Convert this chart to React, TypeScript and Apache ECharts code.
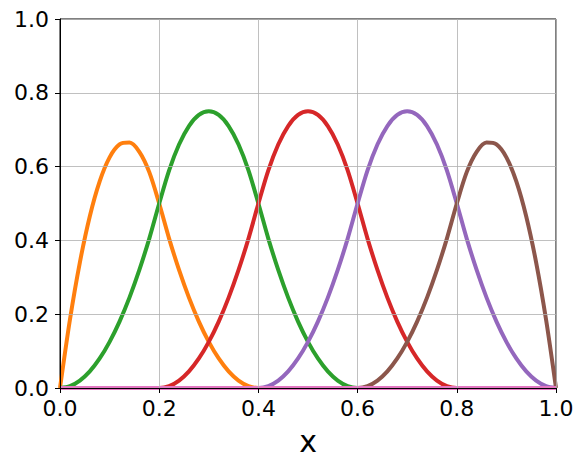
import React, { useEffect, useRef } from "react";
import * as echarts from "echarts";

const xs = [
  0, 0.02, 0.04, 0.06, 0.08, 0.1, 0.12, 0.14, 0.16, 0.18, 0.2,
  0.22, 0.24, 0.26, 0.28, 0.3, 0.32, 0.34, 0.36, 0.38, 0.4,
  0.42, 0.44, 0.46, 0.48, 0.5, 0.52, 0.54, 0.56, 0.58, 0.6,
  0.62, 0.64, 0.66, 0.68, 0.7, 0.72, 0.74, 0.76, 0.78, 0.8,
  0.82, 0.84, 0.86, 0.88, 0.9, 0.92, 0.94, 0.96, 0.98, 1.0,
];

const zeros10 = [0, 0, 0, 0, 0, 0, 0, 0, 0, 0];

const orangeVals = [
  0, 0.185, 0.34, 0.465, 0.56, 0.625, 0.66, 0.665, 0.64, 0.585, 0.5,
  0.405, 0.32, 0.245, 0.18, 0.125, 0.08, 0.045, 0.02, 0.005, 0,
  ...zeros10, ...zeros10, ...zeros10,
];

const greenVals = [
  0, 0.005, 0.02, 0.045, 0.08, 0.125, 0.18, 0.245, 0.32, 0.405, 0.5,
  0.59, 0.66, 0.71, 0.74, 0.75, 0.74, 0.71, 0.66, 0.59, 0.5,
  0.405, 0.32, 0.245, 0.18, 0.125, 0.08, 0.045, 0.02, 0.005, 0,
  ...zeros10, ...zeros10,
];

const redVals = [
  0, 0, 0, 0, 0, 0, 0, 0, 0, 0, 0,
  0.005, 0.02, 0.045, 0.08, 0.125, 0.18, 0.245, 0.32, 0.405, 0.5,
  0.59, 0.66, 0.71, 0.74, 0.75, 0.74, 0.71, 0.66, 0.59, 0.5,
  0.405, 0.32, 0.245, 0.18, 0.125, 0.08, 0.045, 0.02, 0.005, 0,
  ...zeros10,
];

const purpleVals = [
  0, 0, 0, 0, 0, 0, 0, 0, 0, 0, 0,
  ...zeros10,
  0.005, 0.02, 0.045, 0.08, 0.125, 0.18, 0.245, 0.32, 0.405, 0.5,
  0.59, 0.66, 0.71, 0.74, 0.75, 0.74, 0.71, 0.66, 0.59, 0.5,
  0.405, 0.32, 0.245, 0.18, 0.125, 0.08, 0.045, 0.02, 0.005, 0,
];

const brownVals = [
  0, 0, 0, 0, 0, 0, 0, 0, 0, 0, 0,
  ...zeros10, ...zeros10,
  0.005, 0.02, 0.045, 0.08, 0.125, 0.18, 0.245, 0.32, 0.405, 0.5,
  0.585, 0.64, 0.665, 0.66, 0.625, 0.56, 0.465, 0.34, 0.185, 0,
];

const baselineVals = [
  0, 0, 0, 0, 0, 0, 0, 0, 0, 0, 0,
  ...zeros10, ...zeros10, ...zeros10, ...zeros10, ...zeros10,
];

const seriesDefs = [
  { name: "b0", color: "#1f77b4", vals: baselineVals },
  { name: "b1", color: "#ff7f0e", vals: orangeVals },
  { name: "b2", color: "#2ca02c", vals: greenVals },
  { name: "b3", color: "#d62728", vals: redVals },
  { name: "b4", color: "#9467bd", vals: purpleVals },
  { name: "b5", color: "#8c564b", vals: brownVals },
  { name: "b6", color: "#e377c2", vals: baselineVals },
];

export default function App() {
  const ref = useRef<HTMLDivElement>(null);
  useEffect(() => {
    if (!ref.current) return;
    const chart = echarts.init(ref.current, undefined, { renderer: "svg" });
    const font = "DejaVu Sans";
    chart.setOption({
      animation: false,
      backgroundColor: "#ffffff",
      grid: {
        left: 60,
        right: 29,
        top: 19,
        bottom: 79,
        show: true,
        borderColor: "#000",
        borderWidth: 1,
        backgroundColor: "transparent",
      },
      xAxis: {
        type: "value",
        min: 0,
        max: 1,
        interval: 0.2,
        z: 5,
        name: "x",
        nameLocation: "middle",
        nameGap: 38,
        nameTextStyle: { fontFamily: font, fontSize: 30, color: "#000" },
        axisLine: { show: true, onZero: false, lineStyle: { color: "#000", width: 1 } },
        axisTick: { show: true, length: 5, lineStyle: { color: "#000" } },
        axisLabel: {
          fontFamily: font,
          fontSize: 22,
          color: "#000",
          margin: 9,
          formatter: (v: number) => v.toFixed(1),
        },
        splitLine: { show: true, lineStyle: { color: "#b0b0b0", width: 0.8 } },
      },
      yAxis: {
        type: "value",
        min: 0,
        max: 1,
        interval: 0.2,
        z: 5,
        axisLine: { show: true, onZero: false, lineStyle: { color: "#000", width: 1 } },
        axisTick: { show: true, length: 5, lineStyle: { color: "#000" } },
        axisLabel: {
          fontFamily: font,
          fontSize: 22,
          color: "#000",
          margin: 11,
          formatter: (v: number) => v.toFixed(1),
        },
        splitLine: { show: true, lineStyle: { color: "#b0b0b0", width: 0.8 } },
      },
      series: seriesDefs.map((s) => ({
        name: s.name,
        type: "line",
        showSymbol: false,
        symbol: "none",
        smooth: 0.3,
        clip: false,
        lineStyle: { color: s.color, width: 4 },
        itemStyle: { color: s.color },
        data: xs.map((x, i) => [x, s.vals[i]]),
      })),
    });
    return () => chart.dispose();
  }, []);
  return <div ref={ref} style={{ width: 585, height: 467, position: "absolute", left: 0, top: 0 }} />;
}
